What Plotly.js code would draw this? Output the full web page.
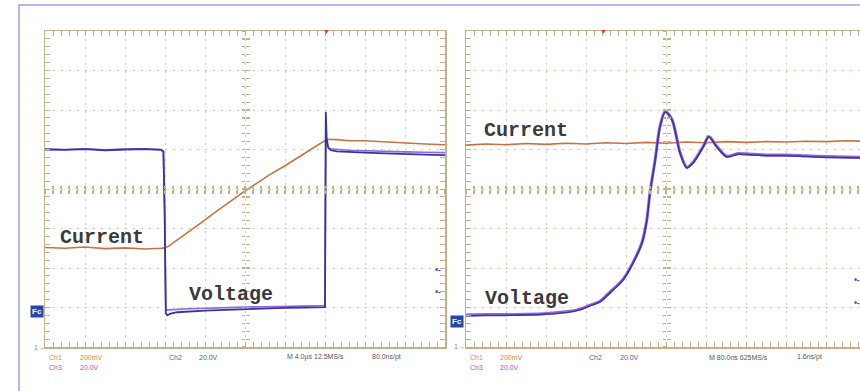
<!DOCTYPE html>
<html>
<head>
<meta charset="utf-8">
<script src="https://cdn.plot.ly/plotly-3.0.1.min.js"></script>
<style>
html,body{margin:0;padding:0;background:#fff;overflow:hidden;width:860px;height:391px;}
#chart{width:900px;height:391px;}
</style>
</head>
<body>
<div id="chart"></div>
<script>
// ---------- data (screen divisions: x 0..10, y 0..8) ----------
const leftCurX = [0,0.5,1,1.5,2,2.5,2.9,3.0,3.1,3.3,3.6,3.9,4.2,4.5,4.8,5.0,5.3,5.6,6.0,6.3,6.6,7.0,7.05,7.3,7.6,8.0,8.5,9.0,9.5,10];
const leftCurY = [2.52,2.50,2.53,2.49,2.51,2.48,2.50,2.51,2.56,2.70,2.92,3.14,3.37,3.59,3.81,3.95,4.15,4.35,4.59,4.78,4.97,5.22,5.26,5.25,5.22,5.22,5.19,5.17,5.14,5.12];

const leftCh2X = [0,0.5,1,1.5,2,2.5,2.9,2.96,2.99,3.02,3.06,3.12,3.3,3.6,4,4.5,5,5.5,6,6.5,7.0,7.02,7.04,7.08,7.15,7.3,7.6,8,8.5,9,9.5,10];
const leftCh2Y = [5.0,4.99,5.01,4.98,5.0,5.01,4.99,4.95,3.5,0.85,0.8,0.84,0.88,0.9,0.92,0.94,0.96,0.98,0.99,1.0,1.01,5.95,5.3,5.05,4.98,4.95,4.93,4.92,4.9,4.88,4.87,4.86];

const leftCh3X = [0,0.5,1,1.5,2,2.5,2.9,2.96,2.99,3.02,3.08,3.3,3.6,4,4.5,5,5.5,6,6.5,7.0,7.02,7.04,7.1,7.3,7.6,8,8.5,9,9.5,10];
const leftCh3Y = [5.01,5.0,5.02,4.99,5.01,5.02,5.0,4.96,3.5,0.93,0.94,0.96,0.97,0.98,1.0,1.01,1.02,1.03,1.04,1.05,5.8,5.15,5.02,5.0,4.98,4.97,4.95,4.94,4.93,4.92];

const rightCurX = [0,0.5,1,1.5,2,2.5,3,3.5,4,4.5,5,5.5,6,6.5,7,7.5,8,8.5,9,9.5,10];
const rightCurY = [5.11,5.14,5.12,5.15,5.13,5.16,5.14,5.17,5.15,5.18,5.16,5.19,5.17,5.2,5.18,5.2,5.19,5.21,5.2,5.22,5.21];

const rightCh2X = [0,0.5,1,1.5,2,2.5,2.85,3.1,3.35,3.6,3.93,4.18,4.4,4.52,4.6,4.73,4.85,4.98,5.15,5.35,5.52,5.68,5.93,6.07,6.27,6.52,6.8,7.2,7.6,8,8.5,9,9.5,10];
const rightCh2Y = [0.79,0.8,0.8,0.81,0.83,0.87,0.94,1.04,1.14,1.37,1.70,2.13,2.63,3.2,3.9,4.73,5.57,5.95,5.75,4.91,4.53,4.66,5.06,5.32,5.06,4.81,4.88,4.86,4.84,4.84,4.82,4.8,4.79,4.78];

const rightCh3X = [0,0.5,1,1.5,2,2.5,2.85,3.1,3.35,3.6,3.93,4.18,4.4,4.52,4.6,4.73,4.85,4.98,5.15,5.35,5.52,5.68,5.93,6.07,6.27,6.52,6.8,7.2,7.6,8,8.5,9,9.5,10];
const rightCh3Y = [0.81,0.82,0.82,0.83,0.85,0.89,0.96,1.06,1.16,1.39,1.72,2.15,2.65,3.22,3.92,4.75,5.59,5.96,5.76,4.93,4.55,4.68,5.08,5.33,5.08,4.83,4.9,4.88,4.86,4.86,4.84,4.82,4.81,4.8];

const labelCurrent = 'Current';
const labelVoltage = 'Voltage';
const leftReadout = ['Ch1','200mV','Ch3','20.0V','Ch2','20.0V','M 4.0µs 12.5MS/s','80.0ns/pt'];
const rightReadout = ['Ch1','200mV','Ch3','20.0V','Ch2','20.0V','M 80.0ns 625MS/s','1.6ns/pt'];

// ---------- layout helpers ----------
const W = 900, H = 391;
const px = x => x / W;
const py = y => 1 - y / H;
const frameColor = '#c4b088';
const gridColor = '#d4c8ae';
const cOrange = '#c8733f', cBlue = '#3434a6', cPurple = '#9466d4';
const yDom = [py(347), py(31)];
const yMid = (yDom[0] + yDom[1]) / 2;

function mainX(domain, anchor) {
  return {domain, anchor, range:[0,10], showgrid:true, gridcolor:gridColor, griddash:'2px,6px', gridwidth:1,
    dtick:1, tick0:0, ticks:'inside', ticklen:5, tickwidth:1, tickcolor:frameColor,
    minor:{dtick:0.2, tick0:0, ticks:'inside', ticklen:3, tickwidth:1, tickcolor:frameColor, showgrid:false},
    showline:true, linecolor:frameColor, linewidth:1.5, mirror:'allticks', showticklabels:false, zeroline:false, fixedrange:true};
}
function mainY(anchor) {
  return {domain:yDom, anchor, range:[0,8], showgrid:true, gridcolor:gridColor, griddash:'2px,6px', gridwidth:1,
    dtick:1, tick0:0, ticks:'inside', ticklen:5, tickwidth:1, tickcolor:frameColor,
    minor:{dtick:0.2, tick0:0, ticks:'inside', ticklen:3, tickwidth:1, tickcolor:frameColor, showgrid:false},
    showline:true, linecolor:frameColor, linewidth:1.5, mirror:'allticks', showticklabels:false, zeroline:false, fixedrange:true};
}
function centerX(over, dir) {
  return {overlaying:over, anchor:'free', position:yMid, range:[0,10], dtick:0.2, tick0:0, ticks:dir, ticklen:3.5,
    tickwidth:1.2, tickcolor:frameColor, showline:false, showgrid:false, showticklabels:false, zeroline:false, fixedrange:true};
}
function centerY(over, pos, dir) {
  return {overlaying:over, anchor:'free', position:pos, range:[0,8], dtick:0.2, tick0:0, ticks:dir, ticklen:3.5,
    tickwidth:1.2, tickcolor:frameColor, showline:false, showgrid:false, showticklabels:false, zeroline:false, fixedrange:true};
}

const traces = [
  {x:leftCurX, y:leftCurY, xaxis:'x', yaxis:'y', mode:'lines', line:{color:cOrange, width:1.6}},
  {x:leftCh3X, y:leftCh3Y, xaxis:'x', yaxis:'y', mode:'lines', line:{color:cPurple, width:1.6}},
  {x:leftCh2X, y:leftCh2Y, xaxis:'x', yaxis:'y', mode:'lines', line:{color:cBlue, width:1.8}},
  {x:rightCurX, y:rightCurY, xaxis:'x2', yaxis:'y2', mode:'lines', line:{color:cOrange, width:1.6}},
  {x:rightCh3X, y:rightCh3Y, xaxis:'x2', yaxis:'y2', mode:'lines', line:{color:cPurple, width:3, shape:'spline', smoothing:0.8}},
  {x:rightCh2X, y:rightCh2Y, xaxis:'x2', yaxis:'y2', mode:'lines', line:{color:cBlue, width:1.5, shape:'spline', smoothing:0.8}},
  // empty traces so the centre graticule axes are drawn
  {x:[], y:[], xaxis:'x3', yaxis:'y'}, {x:[], y:[], xaxis:'x4', yaxis:'y'},
  {x:[], y:[], xaxis:'x', yaxis:'y3'}, {x:[], y:[], xaxis:'x', yaxis:'y4'},
  {x:[], y:[], xaxis:'x5', yaxis:'y2'}, {x:[], y:[], xaxis:'x6', yaxis:'y2'},
  {x:[], y:[], xaxis:'x2', yaxis:'y5'}, {x:[], y:[], xaxis:'x2', yaxis:'y6'}
];

const monoFont = {family:'Liberation Mono, Courier New, monospace', size:20, color:'#3a3a3a'};
const annotations = [];
function label(text, xref, yref, x, y) {
  annotations.push({text:'<b>'+text+'</b>', xref, yref, x, y, xanchor:'left', yanchor:'middle', showarrow:false, font:monoFont});
}
label(labelCurrent, 'x', 'y', 0.33, 2.78);
label(labelVoltage, 'x', 'y', 3.55, 1.34);
label(labelCurrent, 'x2', 'y2', 0.4, 5.49);
label(labelVoltage, 'x2', 'y2', 0.43, 1.22);

function small(text, x, y, color) {
  annotations.push({text, xref:'paper', yref:'paper', x:px(x), y:py(y), xanchor:'left', yanchor:'middle', showarrow:false,
    font:{family:'Liberation Sans, Arial, sans-serif', size:7, color}});
}
const readColors = ['#d08a4c','#d08a4c','#c84cc8','#c84cc8','#4a5ac0','#4a5ac0','#555','#555'];
const leftPos = [[47,357],[78,357],[47,367],[78,367],[167,357],[197,357],[285,357],[370,357]];
const rightPos = [[468,357],[498,357],[468,367],[498,367],[587,357],[618,357],[707,357],[795,357]];
leftReadout.forEach((t,i) => small(t, leftPos[i][0], leftPos[i][1], readColors[i]));
rightReadout.forEach((t,i) => small(t, rightPos[i][0], rightPos[i][1], readColors[i]));

// ground markers, "1" markers, trigger markers, offset arrows
function marker(text, x, y, opts) {
  annotations.push(Object.assign({text, xref:'paper', yref:'paper', x:px(x), y:py(y), xanchor:'center', yanchor:'middle', showarrow:false}, opts));
}
marker('<b>Fc</b>', 37, 311, {font:{family:'Liberation Sans', size:8, color:'#ffffff'}, bgcolor:'#2846a8', borderpad:1});
marker('<b>Fc</b>', 457, 321, {font:{family:'Liberation Sans', size:8, color:'#ffffff'}, bgcolor:'#2846a8', borderpad:1});
marker('1→', 39, 347, {font:{family:'Liberation Sans', size:7, color:'#888'}});
marker('1→', 459, 346, {font:{family:'Liberation Sans', size:7, color:'#888'}});
marker('▼', 326, 32, {font:{size:7, color:'#e03a2a'}});
marker('▼', 603, 32, {font:{size:7, color:'#e03a2a'}});
marker('<b>•-</b>', 438, 269, {font:{size:8, color:'#3050c0'}});
marker('<b>•-</b>', 438, 291, {font:{size:8, color:'#3050c0'}});
marker('<b>•-</b>', 857, 279, {font:{size:8, color:'#3050c0'}});
marker('<b>•-</b>', 857, 302, {font:{size:8, color:'#3050c0'}});

const layout = {
  width:W, height:H, margin:{l:0,r:0,t:0,b:0}, showlegend:false,
  paper_bgcolor:'#ffffff', plot_bgcolor:'#ffffff',
  xaxis: mainX([px(45), px(445)], 'y'),
  yaxis: mainY('x'),
  xaxis2: mainX([px(466), px(866)], 'y2'),
  yaxis2: mainY('x2'),
  xaxis3: centerX('x','inside'), xaxis4: centerX('x','outside'),
  yaxis3: centerY('y', px(245), 'inside'), yaxis4: centerY('y', px(245), 'outside'),
  xaxis5: centerX('x2','inside'), xaxis6: centerX('x2','outside'),
  yaxis5: centerY('y2', px(666), 'inside'), yaxis6: centerY('y2', px(666), 'outside'),
  shapes:[{type:'rect', xref:'paper', yref:'paper', x0:px(19), x1:1.2, y0:-0.2, y1:py(5), line:{color:'#94a8d8', width:1.5}, fillcolor:'rgba(0,0,0,0)', layer:'below'}],
  annotations
};

Plotly.newPlot('chart', traces, layout, {staticPlot:true, displayModeBar:false});
</script>
</body>
</html>
